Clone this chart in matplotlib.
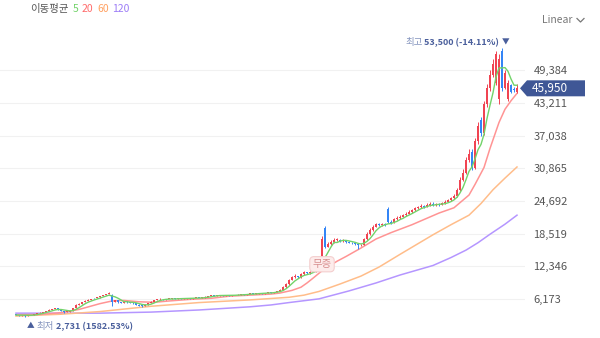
import matplotlib.pyplot as plt
import numpy as np
import pandas as pd
from matplotlib.patches import Polygon
from matplotlib.offsetbox import TextArea, HPacker, AnnotationBbox

plt.rcParams['font.family'] = ['Noto Sans CJK KR', 'DejaVu Sans']

# daily candles
opens = [3200, 3150, 3100, 3100, 3050, 3100, 3150, 3300, 3500, 3600,
         3750, 3900, 4100, 4300, 4450, 4200, 3900, 3700, 3800, 4000,
         4500, 5100, 5300, 5600, 5800, 6000, 6400, 6400, 6500, 6700,
         6900, 7100, 7000, 5700, 5900, 5600, 5500, 5700, 5600, 5500,
         5400, 5100, 4900, 4850, 5100, 5400, 5700, 6000, 6100, 6200,
         6100, 6150, 6200, 6250, 6200, 6300, 6250, 6300, 6350, 6300,
         6350, 6400, 6350, 6450, 6600, 6700, 6900, 6800, 6850, 6900,
         6800, 6900, 6850, 6950, 6900, 7000, 7050, 7000, 7100, 7200,
         7150, 7200, 7300, 7250, 7350, 7400, 7350, 7500, 7700, 7900,
         8400, 9000, 9800, 10300, 10500, 10300, 10800, 11200, 11000, 11300,
         11400, 12000, 13200, 19500, 16000, 16500, 17000, 17300, 17400, 17200,
         17300, 17000, 16800, 16700, 16600, 16300, 16400, 17500, 18500, 19200,
         19800, 20300, 20200, 20400, 23200, 20800, 20600, 21200, 21500, 21700,
         22000, 22300, 22600, 22900, 23300, 23500, 23800, 23600, 24000, 24200,
         23900, 24100, 24000, 24300, 24500, 24800, 25200, 25600, 26800, 28600,
         30000, 32500, 34000, 31000, 36000, 40000, 37500, 43000, 46000, 48500,
         47000, 44000, 53000, 46000, 44000, 46500, 45800, 45300]
highs = [3250, 3200, 3180, 3120, 3150, 3200, 3350, 3550, 3700, 3800,
         3950, 4200, 4350, 4550, 4500, 4250, 3950, 3850, 4050, 4550,
         5150, 5400, 5650, 5900, 6100, 6250, 6450, 6550, 6800, 7000,
         7200, 7500, 7100, 6000, 5950, 5650, 5800, 5750, 5650, 5550,
         5450, 5150, 4950, 5150, 5450, 5750, 6050, 6200, 6300, 6250,
         6200, 6250, 6350, 6300, 6350, 6350, 6350, 6450, 6400, 6400,
         6450, 6450, 6500, 6650, 6750, 6950, 6950, 6900, 6950, 6950,
         6950, 6950, 7000, 7000, 7050, 7100, 7100, 7150, 7250, 7250,
         7250, 7350, 7350, 7400, 7450, 7450, 7550, 7750, 8000, 8600,
         9200, 10000, 10500, 10800, 10600, 11000, 11400, 11300, 11500, 11600,
         12200, 13300, 18000, 19900, 16900, 17300, 17600, 17700, 17500, 17500,
         17400, 17100, 16900, 16800, 16700, 16600, 17700, 18800, 19500, 20100,
         20600, 20500, 20600, 20600, 23500, 21000, 21400, 21800, 22000, 22300,
         22600, 22900, 23200, 23600, 23800, 24100, 24000, 24300, 24500, 24400,
         24300, 24300, 24500, 24800, 25100, 25500, 26000, 27200, 29200, 30800,
         33000, 34500, 34500, 36500, 39500, 40500, 43500, 46800, 49500, 51500,
         53000, 52500, 53500, 49500, 47500, 46800, 46200, 46800]
lows = [3100, 3050, 3050, 2731, 3000, 3100, 3150, 3280, 3450, 3580,
        3700, 3850, 4050, 4250, 4100, 3850, 3600, 3650, 3750, 3950,
        4450, 5050, 5250, 5550, 5750, 5950, 6150, 6300, 6450, 6650,
        6850, 7050, 4900, 5600, 5500, 5400, 5450, 5500, 5400, 5300,
        5000, 4800, 4700, 4800, 5050, 5350, 5650, 5950, 6050, 6000,
        6050, 6100, 6150, 6100, 6150, 6200, 6200, 6250, 6200, 6250,
        6300, 6300, 6300, 6400, 6550, 6650, 6750, 6750, 6800, 6750,
        6750, 6800, 6800, 6850, 6850, 6950, 6950, 6950, 7050, 7100,
        7100, 7150, 7200, 7200, 7300, 7300, 7300, 7450, 7650, 7850,
        8300, 8900, 9700, 10100, 10100, 10200, 10700, 10900, 10900, 11200,
        11300, 11900, 13000, 15800, 15900, 16300, 16800, 17100, 17000, 17000,
        16800, 16700, 16500, 16400, 15600, 16200, 16300, 17300, 18300, 19000,
        19700, 20000, 20000, 19900, 20500, 20400, 20500, 21000, 21300, 21600,
        21900, 22200, 22500, 22800, 23200, 23400, 23400, 23500, 23800, 23800,
        23800, 23800, 23900, 24200, 24400, 24700, 25100, 25500, 26600, 28400,
        29800, 32000, 30500, 30800, 35500, 37000, 37200, 42500, 45500, 48000,
        46500, 43000, 45500, 45800, 43500, 45000, 45200, 45100]
closes = [3150, 3100, 3120, 3050, 3100, 3150, 3300, 3500, 3600, 3750,
          3900, 4100, 4300, 4450, 4200, 3900, 3700, 3800, 4000, 4500,
          5100, 5300, 5600, 5800, 6000, 6200, 6300, 6500, 6700, 6900,
          7100, 7300, 5700, 5900, 5600, 5500, 5700, 5600, 5500, 5400,
          5100, 4900, 4850, 5100, 5400, 5700, 6000, 6100, 6200, 6100,
          6150, 6200, 6250, 6200, 6300, 6250, 6300, 6350, 6300, 6350,
          6400, 6350, 6450, 6600, 6700, 6900, 6800, 6850, 6900, 6800,
          6900, 6850, 6950, 6900, 7000, 7050, 7000, 7100, 7200, 7150,
          7200, 7300, 7250, 7350, 7400, 7350, 7500, 7700, 7900, 8400,
          9000, 9800, 10300, 10500, 10300, 10800, 11200, 11000, 11300, 11400,
          12000, 13000, 17500, 16000, 16500, 17000, 17300, 17400, 17200, 17300,
          17000, 16800, 16700, 16600, 16300, 16400, 17500, 18500, 19200, 19800,
          20300, 20200, 20400, 20100, 20800, 20600, 21200, 21500, 21700, 22000,
          22300, 22600, 22900, 23300, 23500, 23800, 23600, 24000, 24200, 23900,
          24100, 24000, 24300, 24500, 24800, 25200, 25600, 26800, 28600, 30000,
          32500, 33500, 31000, 36000, 38800, 37500, 43000, 46000, 48500, 50500,
          52500, 51500, 46000, 48800, 47000, 45300, 45600, 45950]

# longer moving averages (candle index, value)
ma20_idx = [0, 8, 15, 21, 28, 32, 36, 41, 46, 51, 58, 65, 71, 78, 85, 88, 92,
            95, 97, 99, 102, 105, 107, 110, 115, 120, 125, 132, 141, 146, 151,
            153, 156, 158, 161, 163, 165, 167]
ma20_val = [3200, 3250, 3600, 4200, 5300, 5800, 5900, 5650, 5550, 5800, 6100,
            6300, 6700, 6900, 7100, 7300, 7800, 8400, 9200, 10100, 11500, 12600,
            13300, 14200, 15800, 17500, 18700, 20200, 22400, 23400, 25800,
            27800, 31000, 34600, 39500, 42000, 43600, 45000]
ma60_idx = [0, 15, 28, 45, 61, 78, 91, 96, 101, 104, 108, 115, 121, 128, 139,
            145, 151, 155, 159, 163, 167]
ma60_val = [2950, 3300, 3800, 4800, 5500, 6000, 6500, 6900, 7600, 8200, 9000,
            10500, 12200, 14600, 18300, 20200, 22000, 24200, 26800, 29000, 31100]
ma120_idx = [0, 28, 45, 61, 78, 85, 91, 101, 111, 120, 128, 139, 145, 150,
             154, 158, 163, 167]
ma120_val = [3500, 3500, 3700, 4100, 4700, 5050, 5500, 6200, 7700, 9200, 10700,
             12500, 14000, 15400, 16800, 18400, 20300, 22000]

yticks = [6173, 12346, 18519, 24692, 30865, 37038, 43211, 49384]

UP, DOWN = '#f04452', '#3485f6'
C5, C20, C60, C120 = '#72d36a', '#ff9494', '#ffbd8a', '#b596ff'
NAVY = '#4a5f9c'
LIGHT = '#8393bd'

df = pd.DataFrame({'o': opens, 'h': highs, 'l': lows, 'c': closes})
df['ma5'] = df['c'].rolling(5, min_periods=1).mean()
x = np.arange(len(df))

fig = plt.figure(figsize=(6, 3.38), dpi=100)
ax = fig.add_axes([0, 0, 525 / 600, 308 / 338])
ax.set_xlim(-16 / 3, 509 / 3)
ax.set_ylim(-1190, 56960)

for s in ax.spines.values():
    s.set_visible(False)
ax.set_xticks([])
ax.yaxis.tick_right()
ax.set_yticks(yticks)
ax.set_yticklabels([f'{v:,}' for v in yticks])
ax.tick_params(axis='y', length=0, pad=6, labelsize=8, labelcolor='#555555')
ax.grid(axis='y', color='#f1f1f1', linewidth=0.8)
ax.set_axisbelow(True)

# moving averages
ax.plot(ma120_idx, ma120_val, color=C120, lw=1.1, zorder=2)
ax.plot(ma60_idx, ma60_val, color=C60, lw=1.1, zorder=2)
ax.plot(ma20_idx, ma20_val, color=C20, lw=1.1, zorder=2)

# candles
colors = np.where(df['c'] >= df['o'], UP, DOWN)
ax.vlines(x, df['l'], df['h'], colors=colors, lw=0.7, zorder=3)
body = (df['c'] - df['o']).abs().clip(lower=120)
ax.bar(x, body, bottom=df[['o', 'c']].min(axis=1), width=0.6,
       color=colors, linewidth=0, zorder=3)
ax.plot(x, df['ma5'], color=C5, lw=1.0, zorder=4)

# high / low markers
hi = int(df['h'].idxmax())
lo = int(df['l'].idxmin())
last = closes[-1]
hi_pct = (last / highs[hi] - 1) * 100
lo_pct = (last / lows[lo] - 1) * 100

hi_box = HPacker(children=[
    TextArea('최고', textprops=dict(color=LIGHT, size=6.8)),
    TextArea(f'{highs[hi]:,} ({hi_pct:.2f}%)',
             textprops=dict(color=NAVY, size=6.5, weight='bold')),
    TextArea('▼', textprops=dict(color=NAVY, size=5.5))],
    sep=1.5, pad=0, align='center')
ax.add_artist(AnnotationBbox(hi_box, (hi, highs[hi]), xybox=(5, 4.5),
                             boxcoords='offset points', box_alignment=(1, 0.5),
                             frameon=False, pad=0, annotation_clip=False))

lo_box = HPacker(children=[
    TextArea('▲', textprops=dict(color=NAVY, size=5.5)),
    TextArea('최저', textprops=dict(color=LIGHT, size=6.8)),
    TextArea(f'{lows[lo]:,} ({lo_pct:.2f}%)',
             textprops=dict(color=NAVY, size=6.5, weight='bold'))],
    sep=1.5, pad=0, align='center')
ax.add_artist(AnnotationBbox(lo_box, (lo, lows[lo]), xybox=(1.5, -6.5),
                             boxcoords='offset points', box_alignment=(0, 0.5),
                             frameon=False, pad=0, annotation_clip=False))

# bonus issue tag
ax.annotate('무증', (102, lows[102]), xytext=(0, -1), textcoords='offset points',
            ha='center', va='center', fontsize=7.5, color='#d88f8f', zorder=6,
            bbox=dict(boxstyle='round,pad=0.25,rounding_size=0.4',
                      fc='#fdeceb', ec='#f4cfcf', lw=0.8))

# current price tag
fig.canvas.draw()
_, ypix = ax.transData.transform((0, last))
inv = fig.transFigure.inverted()
pts = [(520, ypix), (527, ypix + 8), (585, ypix + 8), (585, ypix - 8), (527, ypix - 8)]
pts = [inv.transform(p) for p in pts]
fig.add_artist(Polygon(pts, closed=True, fc='#3f5796', ec='none',
                       transform=fig.transFigure))
fx, fy = inv.transform((532, ypix))
fig.text(fx, fy, f'{last:,}', color='white', fontsize=8.5, ha='left', va='center')

# legend
fig.text(30 / 600, 1 - 9 / 338, '이동평균', fontsize=7.5, color='#555555', va='center')
for label, c, px in [('5', C5, 73), ('20', '#ff6b6b', 82), ('60', '#ffa060', 97), ('120', '#9c7cf6', 112)]:
    fig.text(px / 600, 1 - 9 / 338, label, fontsize=7.5, color=c, va='center')

# scale selector
fig.text(542 / 600, 1 - 20 / 338, 'Linear', fontsize=7.5, color='#777777', va='center')
fig.add_artist(plt.Line2D([577 / 600, 580.5 / 600, 584 / 600],
                          [1 - 18.5 / 338, 1 - 22 / 338, 1 - 18.5 / 338],
                          color='#777777', lw=0.9, transform=fig.transFigure))

fig.savefig('out.png', dpi=100)
